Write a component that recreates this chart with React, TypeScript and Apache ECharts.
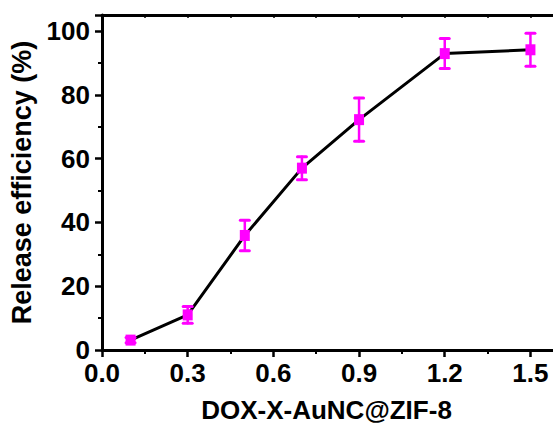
import React, { useEffect, useRef } from "react";
import * as echarts from "echarts";

const concentrations = [0.1, 0.3, 0.5, 0.7, 0.9, 1.2, 1.5];
const efficiency = [3.1, 11.0, 35.9, 57.0, 72.2, 92.9, 94.1];
const errors = [0.8, 2.6, 4.8, 3.6, 6.8, 4.7, 5.2];
const xTitle = "DOX-X-AuNC@ZIF-8";
const yTitle = "Release efficiency (%)";

const FONT = "'Liberation Sans', Arial, sans-serif";
const MAGENTA = "#ff00ff";

export default function App() {
  const ref = useRef<HTMLDivElement>(null);
  useEffect(() => {
    if (!ref.current) return;
    const chart = echarts.init(ref.current, null, { renderer: "svg" });
    const pts = concentrations.map((c, i) => [c, efficiency[i]]);
    const errData = concentrations.map((c, i) => [c, efficiency[i], errors[i]]);
    chart.setOption({
      animation: false,
      backgroundColor: "#ffffff",
      grid: { left: 102, top: 15, width: 457, height: 335, containLabel: false, outerBoundsMode: "none" },
      xAxis: [
        {
          type: "value",
          min: 0,
          max: 1.6,
          interval: 0.3,
          name: xTitle,
          nameLocation: "middle",
          nameGap: 49,
          nameTextStyle: { fontFamily: FONT, fontWeight: "bold", fontSize: 26, lineHeight: 22, color: "#000", padding: [0, 8, 0, 0] },
          axisLine: { show: true, lineStyle: { color: "#000", width: 3 } },
          axisTick: { show: true, inside: false, length: 7, lineStyle: { color: "#000", width: 2.5 } },
          minorTick: { show: true, splitNumber: 2, length: 4, lineStyle: { color: "#000", width: 2 } },
          splitLine: { show: false },
          minorSplitLine: { show: false },
          axisLabel: {
            show: true,
            margin: 13,
            showMaxLabel: false,
            fontFamily: FONT,
            fontWeight: "bold",
            fontSize: 26,
            lineHeight: 20,
            color: "#000",
            formatter: (v: number) => v.toFixed(1),
          },
        },
        {
          type: "value",
          position: "top",
          min: 0,
          max: 1.6,
          interval: 0.3,
          axisLine: { show: true, onZero: false, lineStyle: { color: "#000", width: 3 } },
          axisTick: { show: true, inside: true, length: 3, lineStyle: { color: "#000", width: 1.5 } },
          minorTick: { show: true, splitNumber: 2, length: 3, lineStyle: { color: "#000", width: 1.5 } },
          splitLine: { show: false },
          axisLabel: { show: false },
        },
      ],
      yAxis: {
        type: "value",
        min: 0,
        max: 105,
        interval: 20,
        name: yTitle,
        nameLocation: "middle",
        nameRotate: 90,
        nameGap: 64,
        nameTextStyle: { fontFamily: FONT, fontWeight: "bold", fontSize: 27, color: "#000" },
        axisLine: { show: true, lineStyle: { color: "#000", width: 3 } },
        axisTick: { show: true, inside: false, length: 7, lineStyle: { color: "#000", width: 2.5 } },
        minorTick: { show: true, splitNumber: 2, length: 4, lineStyle: { color: "#000", width: 2 } },
        splitLine: { show: false },
        minorSplitLine: { show: false },
        axisLabel: {
          show: true,
          margin: 12,
          showMaxLabel: false,
          fontFamily: FONT,
          fontWeight: "bold",
          fontSize: 26,
          lineHeight: 20,
          color: "#000",
          formatter: (v: number) => (v % 20 === 0 ? String(v) : ""),
        },
      },
      series: [
        {
          type: "custom",
          xAxisIndex: 0,
          yAxisIndex: 0,
          z: 3,
          data: errData,
          encode: { x: 0, y: 1 },
          renderItem: (params: any, api: any) => {
            const x = api.value(0);
            const y = api.value(1);
            const e = api.value(2);
            const top = api.coord([x, y + e]);
            const bot = api.coord([x, y - e]);
            const hw = 4.5;
            const style = { stroke: MAGENTA, lineWidth: 2.5, lineCap: "round" };
            return {
              type: "group",
              children: [
                { type: "line", shape: { x1: top[0], y1: top[1], x2: bot[0], y2: bot[1] }, style },
                { type: "line", shape: { x1: top[0] - hw, y1: top[1], x2: top[0] + hw, y2: top[1] }, style: { ...style, lineWidth: 3 } },
                { type: "line", shape: { x1: bot[0] - hw, y1: bot[1], x2: bot[0] + hw, y2: bot[1] }, style: { ...style, lineWidth: 3 } },
              ],
            };
          },
        },
        {
          type: "line",
          xAxisIndex: 0,
          yAxisIndex: 0,
          z: 2,
          data: pts,
          symbol: "rect",
          symbolSize: [10, 11],
          showAllSymbol: true,
          lineStyle: { color: "#000", width: 3 },
          itemStyle: { color: MAGENTA },
          emphasis: { disabled: true },
        },
      ],
    });
    return () => chart.dispose();
  }, []);
  return (
    <div
      ref={ref}
      style={{ position: "fixed", left: 0, top: 0, width: 553, height: 424, background: "#fff" }}
    />
  );
}
